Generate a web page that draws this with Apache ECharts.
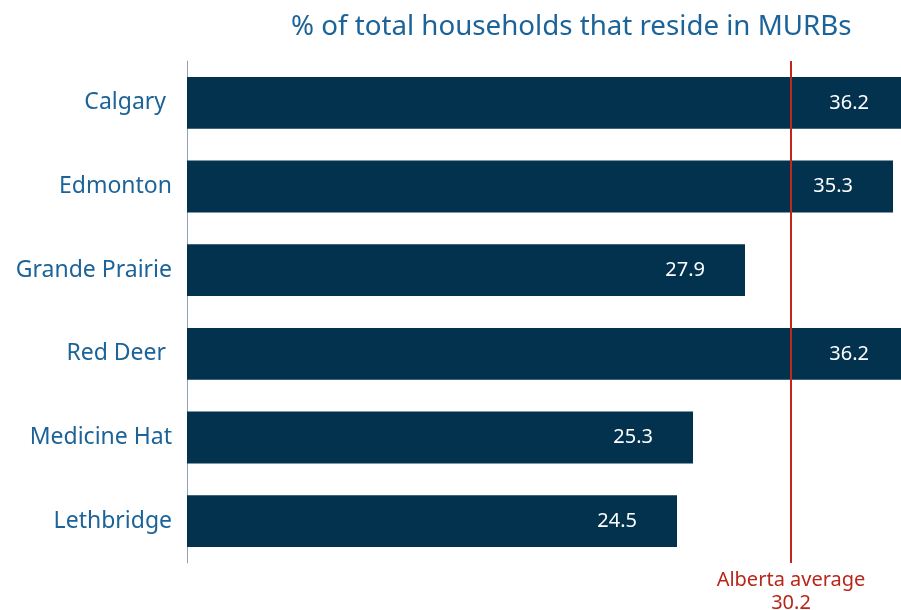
<!DOCTYPE html>
<html>
<head>
<meta charset="utf-8">
<script src="https://cdn.jsdelivr.net/npm/echarts@6/dist/echarts.min.js"></script>
<style>
  html, body { margin: 0; padding: 0; background: #fff; }
  #main { width: 901px; height: 610px; }
</style>
</head>
<body>
<div id="main"></div>
<script>
var cities = ['Calgary ', 'Edmonton', 'Grande Prairie', 'Red Deer ', 'Medicine Hat', 'Lethbridge'];
var shares = [36.2, 35.3, 27.9, 36.2, 25.3, 24.5];
var albertaAvg = 30.2;
var axisMax = 35.7;

var chart = echarts.init(document.getElementById('main'));
var font = 'Noto Sans';

// bars running past the right edge are clipped, so nudge their labels
var barData = shares.map(function (v) {
    return v > axisMax ? { value: v, label: { distance: 32 } } : v;
});

var option = {
    animation: false,
    title: {
        text: '% of total households that reside in MURBs',
        left: 286,
        top: 8,
        textStyle: { color: '#1b6398', fontSize: 27.7, fontWeight: 'normal', fontFamily: font }
    },
    grid: { left: 187, top: 61, right: 0, height: 502 },
    xAxis: {
        type: 'value',
        min: 0,
        max: axisMax,
        show: false
    },
    yAxis: {
        type: 'category',
        data: cities,
        inverse: true,
        axisLine: { lineStyle: { color: '#8fa3b8', width: 1 } },
        axisTick: { show: false },
        axisLabel: { color: '#1b6398', fontSize: 23, fontFamily: font, margin: 15 }
    },
    series: [{
        type: 'bar',
        data: barData,
        clip: true,
        barCategoryGap: '38%',
        itemStyle: { color: '#02324e' },
        label: {
            show: true,
            position: 'insideRight',
            distance: 40,
            color: '#ffffff',
            fontSize: 20,
            fontFamily: font
        },
        markLine: {
            silent: true,
            symbol: 'none',
            lineStyle: { color: '#c0281a', width: 2, type: 'solid' },
            label: {
                position: 'end',
                distance: 6,
                formatter: 'Alberta average\n' + albertaAvg,
                color: '#b8261a',
                fontSize: 20,
                lineHeight: 23,
                fontFamily: font
            },
            data: [{ xAxis: albertaAvg }]
        }
    }]
};

chart.setOption(option);
</script>
</body>
</html>
